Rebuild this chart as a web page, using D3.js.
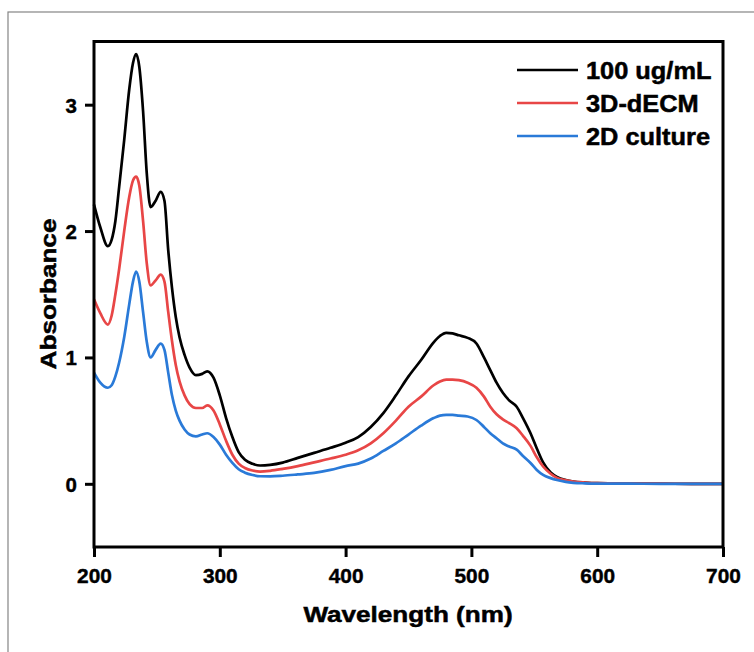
<!DOCTYPE html>
<html><head><meta charset="utf-8">
<script src="https://cdn.jsdelivr.net/npm/d3@7"></script>
<style>html,body{margin:0;padding:0;background:#fff;}svg{display:block;}</style>
</head><body>
<svg id="chart" width="754" height="652"></svg>
<script>
const wavelength = [200,205,211,214,217,220,224,228,231,233.5,236,239,242,245,249,253,256,259,262,265,268,272,276,281,286,290,295,300,305,310,315,320,326,332,340,350,362,375,388,400,410,420,430,440,450,460,470,475,480,485,490,497,504,510,515,520,525,530,536,541,547,552,557,563,568,575,581,590,600,625,650,675,700];
const ug100 = [2.21,2.03,1.88,1.93,2.08,2.35,2.72,3.12,3.33,3.40,3.30,2.95,2.45,2.19,2.24,2.31,2.24,1.85,1.55,1.32,1.16,1.02,0.92,0.86,0.87,0.89,0.84,0.70,0.52,0.37,0.25,0.19,0.158,0.145,0.15,0.168,0.205,0.245,0.285,0.325,0.37,0.45,0.56,0.70,0.85,0.98,1.12,1.17,1.195,1.19,1.175,1.155,1.11,1.00,0.90,0.80,0.72,0.66,0.61,0.52,0.40,0.28,0.17,0.09,0.055,0.03,0.018,0.01,0.005,0.002,0.001,0,0];
const dECM3D = [1.46,1.35,1.26,1.33,1.50,1.70,2.00,2.27,2.40,2.43,2.36,2.08,1.74,1.57,1.61,1.655,1.60,1.36,1.13,0.94,0.81,0.70,0.63,0.60,0.60,0.62,0.58,0.47,0.34,0.23,0.16,0.125,0.105,0.097,0.103,0.118,0.14,0.17,0.20,0.23,0.265,0.32,0.40,0.50,0.61,0.69,0.78,0.81,0.825,0.825,0.82,0.80,0.76,0.69,0.61,0.55,0.51,0.48,0.44,0.38,0.30,0.21,0.137,0.08,0.047,0.028,0.018,0.01,0.005,0.002,0.001,0,0];
const culture2D = [0.88,0.80,0.76,0.78,0.85,0.96,1.16,1.42,1.60,1.68,1.60,1.36,1.12,1.00,1.06,1.11,1.06,0.88,0.70,0.58,0.50,0.43,0.39,0.375,0.39,0.40,0.37,0.31,0.23,0.165,0.115,0.088,0.07,0.06,0.059,0.064,0.074,0.086,0.11,0.14,0.16,0.20,0.26,0.32,0.39,0.46,0.52,0.54,0.545,0.545,0.54,0.533,0.505,0.45,0.40,0.36,0.32,0.295,0.27,0.22,0.165,0.11,0.07,0.045,0.03,0.015,0.008,0.004,0.002,0.001,0,0,0];
const seriesNames = ["100 ug/mL","3D-dECM","2D culture"];
const seriesColors = ["#000000","#e84646","#2a7ad8"];
const xTicks = [200,300,400,500,600,700];
const yTicks = [0,1,2,3];

const svg = d3.select("#chart");
const FONT = "'Liberation Sans', Arial, sans-serif";
const L=94, R=723, T=41.5, B=547;
const x = d3.scaleLinear().domain([200,700]).range([L,R]);
const y = d3.scaleLinear().domain([-0.5,3.5]).range([B,T]);

// outer frame
svg.append("rect").attr("x",8).attr("y",12).attr("width",900).attr("height",900)
  .attr("fill","none").attr("stroke","#858585").attr("stroke-width",1.2);

const series = [ug100, dECM3D, culture2D];
const line = d3.line().x(d=>x(d[0])).y(d=>y(d[1])).curve(d3.curveMonotoneX);
const g = svg.append("g");
series.forEach((vals,i)=>{
  g.append("path").datum(wavelength.map((w,j)=>[w,vals[j]]))
   .attr("d",line).attr("fill","none").attr("stroke",seriesColors[i])
   .attr("stroke-width",2.7).attr("stroke-linejoin","round");
});

// axes
const xAxis = svg.append("g").attr("transform",`translate(0,${B})`)
  .call(d3.axisBottom(x).tickValues(xTicks).tickSize(10).tickPadding(12).tickFormat(d3.format("d")));
const yAxis = svg.append("g").attr("transform",`translate(${L},0)`)
  .call(d3.axisLeft(y).tickValues(yTicks).tickSize(9).tickPadding(8).tickFormat(d3.format("d")));
[xAxis,yAxis].forEach(a=>{
  a.select(".domain").remove();
  a.selectAll(".tick line").attr("stroke","#000").attr("stroke-width",3);
});
xAxis.selectAll(".tick text").attr("font-family",FONT).attr("font-weight","bold")
  .attr("font-size",19.5).attr("fill","#000").attr("stroke","#000").attr("stroke-width",0.4)
  .attr("transform","scale(1.07,1)");
yAxis.selectAll(".tick text").attr("font-family",FONT).attr("font-weight","bold")
  .attr("font-size",20.5).attr("fill","#000").attr("stroke","#000").attr("stroke-width",0.4)
  .attr("dy","0.36em");

// frame box
svg.append("rect").attr("x",L).attr("y",T).attr("width",R-L).attr("height",B-T)
  .attr("fill","none").attr("stroke","#000").attr("stroke-width",3);

// titles
svg.append("text").attr("transform","translate(408,622) scale(1.16,1)")
  .attr("text-anchor","middle").attr("font-family",FONT).attr("font-weight","bold")
  .attr("font-size",22.5).attr("fill","#000").attr("stroke","#000").attr("stroke-width",0.5)
  .text("Wavelength (nm)");
svg.append("text").attr("transform","translate(56,294) rotate(-90) scale(1.16,1)")
  .attr("text-anchor","middle").attr("font-family",FONT).attr("font-weight","bold")
  .attr("font-size",22.5).attr("fill","#000").attr("stroke","#000").attr("stroke-width",0.5)
  .text("Absorbance");

// legend
const leg = svg.append("g");
seriesNames.forEach((n,i)=>{
  const ly = 70 + i*33;
  leg.append("line").attr("x1",517).attr("x2",578).attr("y1",ly).attr("y2",ly)
    .attr("stroke",seriesColors[i]).attr("stroke-width",2.7);
  leg.append("text").attr("transform",`translate(586,${ly+8.5}) scale(1.08,1)`)
    .attr("font-family",FONT).attr("font-weight","bold").attr("font-size",23.5)
    .attr("fill","#000").attr("stroke","#000").attr("stroke-width",0.5).text(n);
});
</script>
</body></html>
